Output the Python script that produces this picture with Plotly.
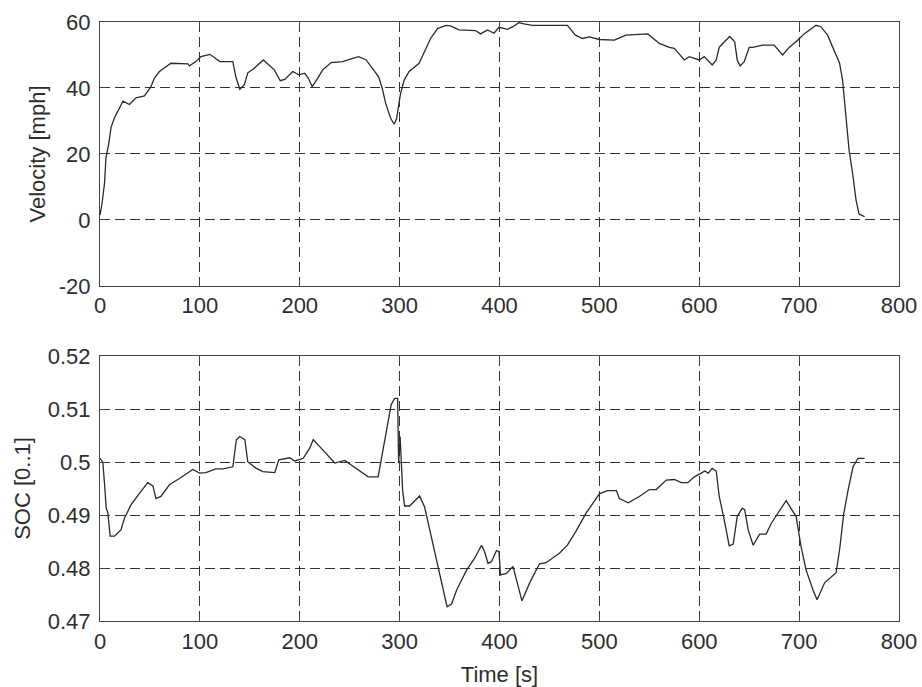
import plotly.graph_objects as go
from plotly.subplots import make_subplots

# Velocity trace (time [s], velocity [mph])
vel_t = [0, 2, 4.5, 6, 8.7, 11, 14.5, 18, 23, 29.5, 36, 44.5, 51, 54.5, 59.5, 71, 88, 89.5, 96, 101,
         110, 120, 133, 136, 140, 144.5, 148, 154.5, 163.5, 174.5, 180.5, 185, 193, 199, 205, 208.5,
         212.5, 218, 223, 231.5, 243, 253, 259, 266.5, 272.5, 279, 282.5, 286, 291, 294.5, 297, 299,
         301, 304.5, 309.5, 319.5, 326, 331, 338, 346.5, 351, 359.5, 376, 381, 388, 394.5, 399.5, 408,
         413, 419.5, 424.5, 433, 468, 476, 483, 490, 500, 515, 526.5, 548.5, 560, 570, 575, 585, 590,
         600, 605, 608.5, 613, 617, 620, 623.5, 630.5, 635.5, 638, 641, 645, 650, 653.5, 663.5, 675,
         683.5, 690, 698.5, 705, 717, 722, 728.5, 735, 740.5, 743.5, 745.5, 747.5, 750, 754, 757, 760,
         765.5]
vel_v = [1.5, 5, 11, 19, 23, 28, 31, 33, 36, 35, 37, 37.6, 40.4, 43, 45, 47.5, 47.3, 46.7, 48, 49.5,
         50.2, 48, 48, 43.4, 39.6, 41, 44.6, 46, 48.5, 45.5, 42.2, 42.6, 45, 44, 44.5, 43,
         40.4, 43, 45.5, 47.7, 48, 49, 49.5, 48.5, 46, 43.4, 40, 35.4, 30.8, 29, 30.8, 34.3,
         38.4, 42.4, 45, 47.5, 51.5, 55, 58, 59, 58.8, 57.6, 57.4, 56.4, 57.6, 56.6, 58.4, 57.8,
         58.5, 59.8, 59.4, 59, 59, 56, 55, 55.5, 54.7, 54.5, 56, 56.4, 53.5, 52.3, 52, 48.5, 49.5,
         48.5, 49.5, 48.5, 47, 48.5, 52.3, 53.5, 55.6, 54, 48.5, 46.7, 48, 52.3, 52.3, 53, 53,
         50, 52.3, 54.5, 56.4, 59, 58.5, 56, 51.5, 47.5, 42.4, 35.4, 30.3, 21.2, 13.1, 6, 1.8,
         1]

# State of charge trace (time [s], SOC [0..1])
soc_t = [0, 2.8, 4.5, 6.2, 7.8, 10.2, 14.5, 21, 24.5, 31, 39.5, 47.8, 53, 56, 61, 69.5, 79.5, 93,
         99.7, 106, 116, 123, 133, 136.5, 140, 145, 148, 156.5, 163, 175, 179, 186.5, 190, 195,
         203.5, 210, 213.5, 220, 235, 245, 257, 268.5, 278.5, 281.5, 286.5, 291.5, 295, 298, 299,
         300.5, 303, 305, 310, 320, 325, 330, 336.5, 343.5, 347.5, 352, 357, 367, 375, 382, 385,
         388.5, 392, 397, 399.5, 401, 407, 413.5, 418.5, 422.5, 430, 440, 446.5, 460, 468, 476.5,
         486.5, 500, 508, 517, 520, 529, 540, 550, 557, 567, 575, 582, 588.5, 595, 602, 605.5, 609,
         613, 617, 620, 625, 630, 634, 638, 643, 645.5, 649, 654, 660.5, 667, 672, 679, 687, 692,
         697, 702, 707, 714, 718, 725.5, 737, 740.5, 744.5, 749, 754, 759, 765.5]
soc_v = [0.5007, 0.5, 0.496, 0.4913, 0.4905, 0.486, 0.486, 0.4872, 0.4894, 0.4919, 0.4941, 0.4961,
         0.4955, 0.4931, 0.4935, 0.4957, 0.4969, 0.4986, 0.4979, 0.4980, 0.4987, 0.4987, 0.4991,
         0.5042, 0.5048, 0.5042, 0.5, 0.4988, 0.4982, 0.498, 0.5004, 0.5007, 0.5008, 0.5002,
         0.5007, 0.5026, 0.5042, 0.5029, 0.4998, 0.5003, 0.4988, 0.4972, 0.4972, 0.5004, 0.5054,
         0.5108, 0.512, 0.512, 0.4998, 0.5048, 0.4947, 0.4917, 0.4917, 0.4936, 0.4915, 0.4872,
         0.4815, 0.4758, 0.4727, 0.4732, 0.4758, 0.4796, 0.4818, 0.4843, 0.4831, 0.4809, 0.4812,
         0.4833, 0.4831, 0.4787, 0.4790, 0.4803, 0.4765, 0.4738, 0.4771, 0.4808, 0.4810, 0.4828,
         0.4843, 0.4869, 0.4903, 0.494, 0.4946, 0.4946, 0.4931, 0.4923, 0.4935, 0.4948, 0.4948,
         0.4966, 0.4967, 0.4961, 0.4961, 0.4972, 0.4979, 0.4983, 0.4979, 0.4988, 0.4983, 0.4935,
         0.4891, 0.4842, 0.4845, 0.4897, 0.4913, 0.4910, 0.4872, 0.4843, 0.4864, 0.4864, 0.4884,
         0.4905, 0.4927, 0.4912, 0.4897, 0.484, 0.4796, 0.4758, 0.474, 0.4772, 0.4791, 0.4834,
         0.49, 0.4947, 0.4991, 0.5007, 0.5007]

x_ticks = [0, 100, 200, 300, 400, 500, 600, 700, 800]
x_labels = ["0", "100", "200", "300", "400", "500", "600", "700", "800"]
vel_ticks = [-20, 0, 20, 40, 60]
vel_labels = ["-20", "0", "20", "40", "60"]
soc_ticks = [0.47, 0.48, 0.49, 0.50, 0.51, 0.52]
soc_labels = ["0.47", "0.48", "0.49", "0.5", "0.51", "0.52"]

FONT = "Liberation Sans, Arial, sans-serif"
INK = "#2a2a2a"
TXT = "#2e2e2e"
FS = 22

fig = make_subplots(rows=2, cols=1, vertical_spacing=0.1169)
fig.add_trace(go.Scatter(x=vel_t, y=vel_v, mode="lines",
                         line=dict(color=INK, width=1.3), showlegend=False), row=1, col=1)
fig.add_trace(go.Scatter(x=soc_t, y=soc_v, mode="lines",
                         line=dict(color=INK, width=1.3), showlegend=False), row=2, col=1)

axis_common = dict(showline=True, linecolor="#444", linewidth=1.2, mirror="allticks",
                   ticks="inside", ticklen=6, tickcolor="#444",
                   showgrid=True, gridcolor="#333", gridwidth=1, griddash="10px,5px",
                   zeroline=False, tickfont=dict(family=FONT, size=FS, color=TXT))

fig.update_xaxes(range=[0, 800], tickvals=x_ticks, ticktext=x_labels, ticklabelstandoff=0,
                 **axis_common)
fig.update_yaxes(ticklabelstandoff=4, **axis_common)
fig.update_yaxes(range=[-20, 60], tickvals=vel_ticks, ticktext=vel_labels,
                 domain=[0.5593, 1.0], row=1, col=1,
                 title=dict(text="Velocity [mph]", font=dict(family=FONT, size=FS, color=TXT),
                            standoff=6))
fig.update_yaxes(range=[0.47, 0.52], tickvals=soc_ticks, ticktext=soc_labels,
                 domain=[0.0, 0.4424], row=2, col=1,
                 title=dict(text="SOC [0..1]", font=dict(family=FONT, size=FS, color=TXT),
                            standoff=10))
fig.update_xaxes(title=dict(text="Time [s]", font=dict(family=FONT, size=FS, color=TXT),
                            standoff=15), row=2, col=1)

fig.update_layout(width=922, height=687, margin=dict(l=100, r=23, t=22, b=66, autoexpand=False),
                  plot_bgcolor="white", paper_bgcolor="white",
                  font=dict(family=FONT, size=FS, color=TXT))

# remove the default 8px page margin so the figure fills the 922x687 window exactly
fig.write_html("out.html", config={"displayModeBar": False},
               post_script="document.body.style.margin='0';")
